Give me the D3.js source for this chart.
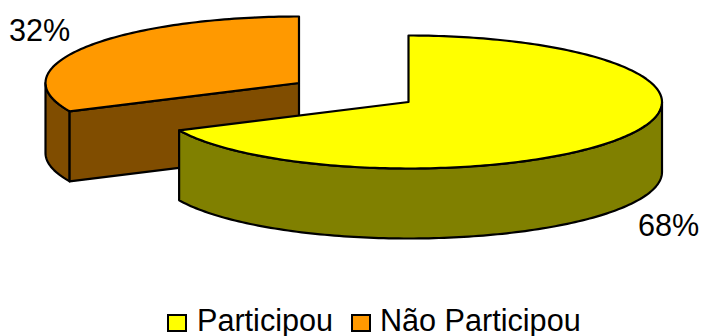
<!DOCTYPE html>
<html>
<head>
<meta charset="utf-8">
<script src="https://cdn.jsdelivr.net/npm/d3@7/dist/d3.min.js"></script>
<style>
html,body{margin:0;padding:0;background:#fff;overflow:hidden}
svg{display:block}
text{font-family:"Liberation Sans",Arial,sans-serif;fill:#000}
</style>
</head>
<body>
<svg id="chart" width="703" height="336"></svg>
<script>
const categories = ["Participou", "Não Participou"];
const values = [68, 32];
const valueLabels = ["68%", "32%"];
const topColors = ["#ffff00", "#ff9900"];
const sideColors = ["#808000", "#804d00"];

const svg = d3.select("#chart");
const slices = d3.pie().sort(null).value(d => d)(values);

// Each exploded slice has its own centre; the disc is a flattened circle.
const centres = [{x: 408.5, y: 102}, {x: 299, y: 83}];
const rx = 253.5, ry = 66.5, depth = 70;
const stroke = {stroke: "#000", "stroke-width": 2.2, "stroke-linejoin": "round"};

const lineGen = d3.line();

function rim(c, a0, a1, dy = 0) {
  const n = Math.max(2, Math.ceil(Math.abs(a1 - a0) / 0.02));
  return d3.range(n + 1).map(i => {
    const a = a0 + (a1 - a0) * i / n;
    return [c.x + rx * Math.sin(a), c.y - ry * Math.cos(a) + dy];
  });
}

function drawPath(pts, fill) {
  const p = svg.append("path").attr("d", lineGen(pts) + "Z").attr("fill", fill);
  Object.entries(stroke).forEach(([k, v]) => p.attr(k, v));
}

// Back slice first so the larger slice overlaps it.
[1, 0].forEach(i => {
  const s = slices[i], c = centres[i];
  const PI = Math.PI;
  // Outer wall: only the part of the rim facing the viewer.
  const from = Math.max(s.startAngle, PI / 2);
  const to = Math.min(s.endAngle, 3 * PI / 2);
  if (from < to) {
    drawPath(rim(c, from, to).concat(rim(c, to, from, depth)), sideColors[i]);
  }
  // Cut wall running from the start edge back to the centre.
  if (i === 1) {
    const e = rim(c, s.startAngle, s.startAngle)[0];
    drawPath([e, [c.x, c.y], [c.x, c.y + depth], [e[0], e[1] + depth]], sideColors[i]);
  }
  // Top face.
  drawPath([[c.x, c.y]].concat(rim(c, s.startAngle, s.endAngle)), topColors[i]);
});

// Percentage labels.
const labelPos = [{x: 638, y: 235.5}, {x: 9, y: 41}];
valueLabels.forEach((t, i) => {
  svg.append("text").attr("x", labelPos[i].x).attr("y", labelPos[i].y)
    .attr("font-size", 30.6).text(t);
});

// Legend.
const legendX = [{box: 168, text: 197}, {box: 352, text: 380}];
categories.forEach((t, i) => {
  svg.append("rect").attr("x", legendX[i].box).attr("y", 315)
    .attr("width", 18).attr("height", 16)
    .attr("fill", topColors[i]).attr("stroke", "#000").attr("stroke-width", 2);
  svg.append("text").attr("x", legendX[i].text).attr("y", 331)
    .attr("font-size", 30.6).text(t);
});
</script>
</body>
</html>
